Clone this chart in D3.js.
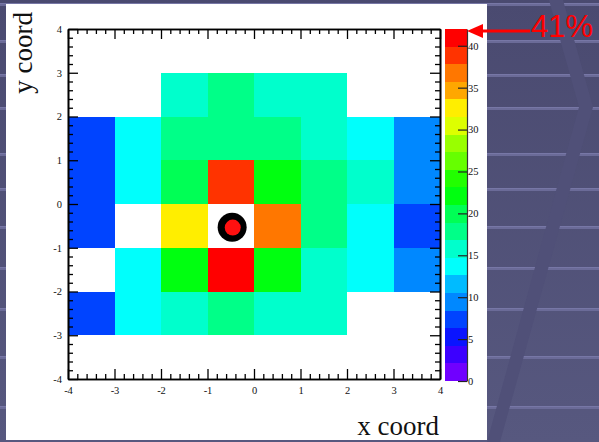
<!DOCTYPE html>
<html>
<head>
<meta charset="utf-8">
<script src="https://cdn.jsdelivr.net/npm/d3@7"></script>
<style>
  html, body { margin: 0; padding: 0; background: #4c4c72; overflow: hidden; }
  svg { display: block; }
  .tick text { font-family: "Liberation Serif", "DejaVu Serif", serif; fill: #111; }
</style>
</head>
<body>
<svg id="chart" width="599" height="442"></svg>
<script>
// Bin edges of the 8x8 map (x and y in coord units)
const xEdges = [-4, -3, -2, -1, 0, 1, 2, 3, 4];
const yEdges = [4, 3, 2, 1, 0, -1, -2, -3, -4];   // top row first

// Bin contents in percent, one row per y bin (top to bottom); null = empty bin
const rowY35  = [null, null, null, null, null, null, null, null];
const rowY25  = [null, null, 15.8, 18.0, 15.9, 15.6, null, null];
const rowY15  = [7.4, 13.8, 18.1, 17.9, 18.2, 16.0, 13.9, 9.6];
const rowY05  = [7.6, 13.6, 20.2, 38.9, 22.1, 18.0, 15.8, 9.5];
const rowYm05 = [7.5, null, 32.4, null, 36.8, 17.8, 13.7, 7.7];
const rowYm15 = [null, 13.9, 22.0, 41.0, 22.2, 15.9, 13.8, 9.4];
const rowYm25 = [7.3, 13.7, 15.8, 18.0, 15.7, 15.9, null, null];
const rowYm35 = [null, null, null, null, null, null, null, null];
const cellRows = [rowY35, rowY25, rowY15, rowY05, rowYm05, rowYm15, rowYm25, rowYm35];

// Axis ticks
const xTicks = [-4, -3, -2, -1, 0, 1, 2, 3, 4];
const yTicks = [-4, -3, -2, -1, 0, 1, 2, 3, 4];
const zTicks = [0, 5, 10, 15, 20, 25, 30, 35, 40];
const zMax = 42;

// 20-level rainbow palette, violet (low) to red (high)
const palette = [
  "#7000ff", "#3c00ff", "#0a14ff", "#0044ff", "#0088ff",
  "#00bbff", "#00fffc", "#00ffcc", "#00ff88", "#00ff55",
  "#00ff10", "#22ff00", "#66ff00", "#99ff00", "#ddff00",
  "#ffee00", "#ffa700", "#ff7700", "#ff3300", "#ff0000"
];

// Beam position marker and the peak annotation
const beamX = -0.47, beamY = -0.53;
const peakValue = 41;
const peakText = "41%";
const xTitle = "x coord", yTitle = "y coord";

// Slide backdrop: stripe rows
const stripeRows = [3, 40, 74, 107, 153, 188, 226, 267, 308, 356, 406];

const svg = d3.select("#chart");
const W = 599, H = 442;

// ---- backdrop ----
const defs = svg.append("defs");
const bg = defs.append("linearGradient").attr("id", "bg").attr("x1", 0).attr("y1", 0).attr("x2", 0).attr("y2", 1);
bg.append("stop").attr("offset", 0).attr("stop-color", "#4a4a70");
bg.append("stop").attr("offset", 1).attr("stop-color", "#57587f");
svg.append("rect").attr("width", W).attr("height", H).attr("fill", "url(#bg)");

const stripes = svg.append("g");
stripes.selectAll("rect.s").data(stripeRows).join("rect")
  .attr("x", 0).attr("y", d => d).attr("width", W).attr("height", 3)
  .attr("fill", "#6b6b98");
stripes.selectAll("rect.h").data(stripeRows).join("rect")
  .attr("x", 0).attr("y", d => d).attr("width", W).attr("height", 1)
  .attr("fill", "#7777a6");

// diagonal chevron band across the backdrop
svg.append("path")
  .attr("d", "M549,0 L563,0 L593,107 L500,442 L487,442 L579,107 Z")
  .attr("fill", "#505078");

// ---- white panel ----
svg.append("rect").attr("x", 6).attr("y", 4).attr("width", 481).attr("height", 436).attr("fill", "#ffffff");

// ---- scales ----
const plot = { left: 68, right: 440, top: 29, bottom: 379 };
const xScale = d3.scaleLinear().domain([-4, 4]).range([plot.left, plot.right]);
const yScale = d3.scaleLinear().domain([-4, 4]).range([plot.bottom, plot.top]);
const zScale = d3.scaleLinear().domain([0, zMax]).range([381, 29]);
const colour = d3.scaleQuantize().domain([0, zMax]).range(palette);

// ---- bins ----
const cells = [];
cellRows.forEach((row, i) => row.forEach((v, j) => {
  if (v !== null) cells.push({ x0: xEdges[j], x1: xEdges[j + 1], y0: yEdges[i], y1: yEdges[i + 1], v });
}));
svg.append("g").attr("shape-rendering", "crispEdges")
  .selectAll("rect").data(cells).join("rect")
  .attr("x", d => xScale(d.x0))
  .attr("y", d => yScale(d.y0))
  .attr("width", d => xScale(d.x1) - xScale(d.x0))
  .attr("height", d => yScale(d.y1) - yScale(d.y0))
  .attr("fill", d => colour(d.v));

// ---- beam marker ----
svg.append("circle").attr("cx", xScale(beamX)).attr("cy", yScale(beamY)).attr("r", 14.5).attr("fill", "#000");
svg.append("circle").attr("cx", xScale(beamX) + 0.6).attr("cy", yScale(beamY) + 0.4).attr("r", 8).attr("fill", "#ff1010");

// ---- axes (ticks drawn inward, ROOT style) ----
const minorX = xScale.ticks(40).filter(t => !xTicks.includes(t));
const minorY = yScale.ticks(40).filter(t => !yTicks.includes(t));
const fmt = d => String(d);

function styleAxis(g) {
  g.selectAll("path.domain").attr("stroke", "#000").attr("stroke-width", 1.6);
  g.selectAll(".tick line").attr("stroke", "#000").attr("stroke-width", 1.3);
  g.selectAll(".tick text").attr("font-size", 10.5);
}

// bottom
svg.append("g").attr("transform", `translate(0,${plot.bottom})`)
  .call(d3.axisBottom(xScale).tickValues(xTicks).tickSize(-10).tickSizeOuter(0).tickPadding(8).tickFormat(fmt))
  .call(styleAxis);
svg.append("g").attr("transform", `translate(0,${plot.bottom})`)
  .call(d3.axisBottom(xScale).tickValues(minorX).tickSize(-5).tickSizeOuter(0).tickFormat(""))
  .call(styleAxis);
// top
svg.append("g").attr("transform", `translate(0,${plot.top})`)
  .call(d3.axisTop(xScale).tickValues(xTicks).tickSize(-10).tickSizeOuter(0).tickFormat(""))
  .call(styleAxis);
svg.append("g").attr("transform", `translate(0,${plot.top})`)
  .call(d3.axisTop(xScale).tickValues(minorX).tickSize(-5).tickSizeOuter(0).tickFormat(""))
  .call(styleAxis);
// left
svg.append("g").attr("transform", `translate(${plot.left},0)`)
  .call(d3.axisLeft(yScale).tickValues(yTicks).tickSize(-10).tickSizeOuter(0).tickPadding(6).tickFormat(fmt))
  .call(styleAxis);
svg.append("g").attr("transform", `translate(${plot.left},0)`)
  .call(d3.axisLeft(yScale).tickValues(minorY).tickSize(-5).tickSizeOuter(0).tickFormat(""))
  .call(styleAxis);
// right
svg.append("g").attr("transform", `translate(${plot.right},0)`)
  .call(d3.axisRight(yScale).tickValues(yTicks).tickSize(-10).tickSizeOuter(0).tickFormat(""))
  .call(styleAxis);
svg.append("g").attr("transform", `translate(${plot.right},0)`)
  .call(d3.axisRight(yScale).tickValues(minorY).tickSize(-5).tickSizeOuter(0).tickFormat(""))
  .call(styleAxis);

// ---- colour bar ----
const cbLeft = 445, cbRight = 467;
const levels = palette.map((c, k) => ({ lo: k * zMax / palette.length, hi: (k + 1) * zMax / palette.length, c }));
svg.append("g").attr("shape-rendering", "crispEdges")
  .selectAll("rect").data(levels).join("rect")
  .attr("x", cbLeft).attr("width", cbRight - cbLeft)
  .attr("y", d => zScale(d.hi)).attr("height", d => zScale(d.lo) - zScale(d.hi))
  .attr("fill", d => d.c);
svg.append("g").attr("transform", `translate(${cbRight},0)`)
  .call(d3.axisRight(zScale).tickValues(zTicks).tickSize(-9).tickSizeOuter(0).tickPadding(1).tickFormat(fmt))
  .call(g => {
    g.selectAll("path.domain").attr("stroke", "#333").attr("stroke-width", 1.2);
    g.selectAll(".tick line").attr("stroke", "#222").attr("stroke-width", 1.2);
    g.selectAll(".tick text").attr("font-size", 10.5);
  });

// ---- axis titles ----
svg.append("text")
  .attr("x", 439).attr("y", 435)
  .attr("text-anchor", "end")
  .attr("font-family", "Liberation Serif, serif").attr("font-size", 27)
  .attr("fill", "#111")
  .text(xTitle);
svg.append("text")
  .attr("transform", "translate(32,12) rotate(-90)")
  .attr("text-anchor", "end")
  .attr("font-family", "Liberation Serif, serif").attr("font-size", 27)
  .attr("fill", "#111")
  .text(yTitle);

// ---- peak annotation: arrow pointing at the top of the colour bar ----
const arrowY = zScale(peakValue) - 6.5;
svg.append("line").attr("x1", 530).attr("x2", 480).attr("y1", arrowY).attr("y2", arrowY)
  .attr("stroke", "#ff0000").attr("stroke-width", 3);
svg.append("path")
  .attr("d", `M467,${arrowY} L483,${arrowY - 7} L483,${arrowY + 7} Z`)
  .attr("fill", "#ff0000");
svg.append("text")
  .attr("x", 531).attr("y", 37)
  .attr("font-family", "Liberation Sans, Arial, sans-serif").attr("font-size", 31)
  .attr("fill", "#ff0000")
  .text(peakText);
</script>
</body>
</html>
